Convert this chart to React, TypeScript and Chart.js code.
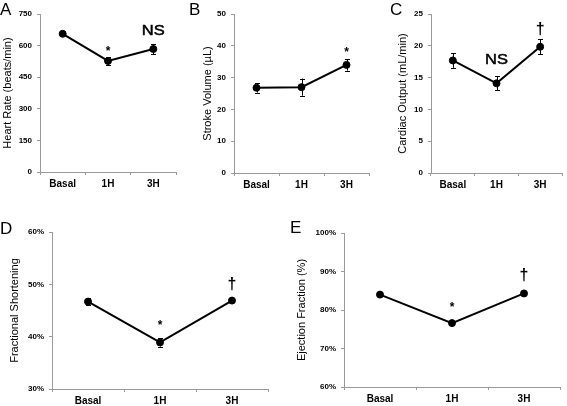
import React, { useEffect, useRef } from "react";
import { Chart, registerables } from "chart.js";

Chart.register(...registerables);

const FONT = "'Liberation Sans', Arial, Helvetica, sans-serif";

// ---------- data ----------
const categories = ["Basal", "1H", "3H"];

const heartRate = [656, 527, 584];
const heartRateErr = [6, 18, 24];
const heartRateMarks = ["", "*", "NS"];
const heartRateMarkY = [null, 554, 650];

const strokeVolume = [26.8, 27.0, 34.0];
const strokeVolumeErr = [1.5, 2.7, 1.8];
const strokeVolumeMarks = ["", "", "*"];
const strokeVolumeMarkY = [null, null, 36.9];

const cardiacOutput = [17.7, 14.1, 19.85];
const cardiacOutputErr = [1.15, 1.1, 1.2];
const cardiacOutputMarks = ["", "NS", "†"];
const cardiacOutputMarkY = [null, 17.1, 21.8];

const fractionalShortening = [46.7, 38.9, 46.9];
const fractionalShorteningErr = [0.7, 0.8, 0.3];
const fractionalShorteningMarks = ["", "*", "†"];
const fractionalShorteningMarkY = [null, 41.5, 49.1];

const ejectionFraction = [84.0, 76.6, 84.3];
const ejectionFractionErr = [0.3, 0.4, 0.3];
const ejectionFractionMarks = ["", "*", "†"];
const ejectionFractionMarkY = [null, 79.8, 87.9];

// y-axis ranges: [min, max, step]
const heartRateAxis = [0, 750, 150];
const strokeVolumeAxis = [0, 50, 10];
const cardiacOutputAxis = [0, 25, 5];
const fractionalShorteningAxis = [30, 60, 10];
const ejectionFractionAxis = [60, 100, 10];

type Panel = {
  letter: string;
  title: string;
  values: number[];
  errors: number[];
  marks: string[];
  markY: (number | null)[];
  axis: number[];
  percent: boolean;
  canvas: { x: number; y: number; w: number; h: number };
  area: { l: number; t: number; r: number; b: number };
  titlePad: number;
  letterPos: { x: number; y: number };
};

const panels: Panel[] = [
  {
    letter: "A",
    title: "Heart Rate (beats/min)",
    values: heartRate,
    errors: heartRateErr,
    marks: heartRateMarks,
    markY: heartRateMarkY,
    axis: heartRateAxis,
    percent: false,
    canvas: { x: 0, y: 0, w: 185, h: 195 },
    area: { l: 40, t: 14, r: 176, b: 172 },
    titlePad: 0.9,
    letterPos: { x: 0, y: 2 },
  },
  {
    letter: "B",
    title: "Stroke Volume (µL)",
    values: strokeVolume,
    errors: strokeVolumeErr,
    marks: strokeVolumeMarks,
    markY: strokeVolumeMarkY,
    axis: strokeVolumeAxis,
    percent: false,
    canvas: { x: 185, y: 0, w: 190, h: 195 },
    area: { l: 234, t: 14, r: 369, b: 173 },
    titlePad: 15.9,
    letterPos: { x: 189, y: 2 },
  },
  {
    letter: "C",
    title: "Cardiac Output (mL/min)",
    values: cardiacOutput,
    errors: cardiacOutputErr,
    marks: cardiacOutputMarks,
    markY: cardiacOutputMarkY,
    axis: cardiacOutputAxis,
    percent: false,
    canvas: { x: 375, y: 0, w: 192, h: 195 },
    area: { l: 431, t: 14, r: 566, b: 173 },
    titlePad: 21.7,
    letterPos: { x: 390, y: 2 },
  },
  {
    letter: "D",
    title: "Fractional Shortening",
    values: fractionalShortening,
    errors: fractionalShorteningErr,
    marks: fractionalShorteningMarks,
    markY: fractionalShorteningMarkY,
    axis: fractionalShorteningAxis,
    percent: true,
    canvas: { x: 0, y: 200, w: 290, h: 206 },
    area: { l: 52, t: 232, r: 268, b: 389 },
    titlePad: 8.4,
    letterPos: { x: 0, y: 221 },
  },
  {
    letter: "E",
    title: "Ejection Fraction (%)",
    values: ejectionFraction,
    errors: ejectionFractionErr,
    marks: ejectionFractionMarks,
    markY: ejectionFractionMarkY,
    axis: ejectionFractionAxis,
    percent: true,
    canvas: { x: 290, y: 200, w: 277, h: 206 },
    area: { l: 344, t: 233, r: 560, b: 387 },
    titlePad: 5.4,
    letterPos: { x: 290, y: 220 },
  },
];

function errorBarPlugin(errors: number[]) {
  return {
    id: "errorBars",
    afterDatasetsDraw(chart: any) {
      const ctx = chart.ctx;
      const meta = chart.getDatasetMeta(0);
      const ys = chart.scales.y;
      const data = chart.data.datasets[0].data as number[];
      ctx.save();
      ctx.strokeStyle = "#000";
      ctx.lineWidth = 1;
      meta.data.forEach((pt: any, i: number) => {
        const e = errors[i];
        if (!e) return;
        const yTop = ys.getPixelForValue(data[i] + e);
        const yBot = ys.getPixelForValue(data[i] - e);
        const x = Math.round(pt.x) + 0.5;
        ctx.beginPath();
        ctx.moveTo(x, yTop);
        ctx.lineTo(x, yBot);
        ctx.moveTo(x - 2.5, Math.round(yTop) + 0.5);
        ctx.lineTo(x + 2.5, Math.round(yTop) + 0.5);
        ctx.moveTo(x - 2.5, Math.round(yBot) + 0.5);
        ctx.lineTo(x + 2.5, Math.round(yBot) + 0.5);
        ctx.stroke();
      });
      ctx.restore();
    },
  };
}

function markPlugin(marks: string[], markY: (number | null)[]) {
  return {
    id: "marks",
    afterDraw(chart: any) {
      const ctx = chart.ctx;
      const xs = chart.scales.x;
      const ys = chart.scales.y;
      marks.forEach((m, i) => {
        const v = markY[i];
        if (!m || v == null) return;
        ctx.save();
        ctx.fillStyle = "#000";
        ctx.textAlign = "center";
        ctx.textBaseline = "alphabetic";
        const x = xs.getPixelForValue(i);
        const y = ys.getPixelForValue(v);
        ctx.translate(x, y);
        if (m === "*") {
          ctx.font = `bold 12px ${FONT}`;
        } else if (m === "NS") {
          ctx.font = `15px ${FONT}`;
          ctx.scale(1.1, 1);
          ctx.lineWidth = 0.5;
          ctx.strokeStyle = "#000";
          ctx.strokeText(m, 0, 0);
        } else {
          ctx.font = `bold 16px ${FONT}`;
        }
        ctx.fillText(m, 0, 0);
        ctx.restore();
      });
    },
  };
}

function PanelChart({ p }: { p: Panel }) {
  const ref = useRef<HTMLCanvasElement | null>(null);
  useEffect(() => {
    if (!ref.current) return;
    const [min, max, step] = p.axis;
    const yWidth = p.area.l - p.canvas.x;
    const xHeight = p.canvas.y + p.canvas.h - p.area.b;
    const chart = new Chart(ref.current, {
      type: "line",
      data: {
        labels: categories,
        datasets: [
          {
            data: p.values,
            borderColor: "#000",
            backgroundColor: "#000",
            borderWidth: 2,
            pointRadius: 3.5,
            pointBackgroundColor: "#000",
            pointBorderColor: "#000",
            pointBorderWidth: 1,
            tension: 0,
          },
        ],
      },
      options: {
        responsive: false,
        animation: false,
        devicePixelRatio: 1,
        layout: {
          padding: {
            left: 0,
            top: p.area.t - p.canvas.y,
            right: p.canvas.x + p.canvas.w - p.area.r,
            bottom: 0,
          },
        },
        plugins: {
          legend: { display: false },
          tooltip: { enabled: false },
        },
        scales: {
          x: {
            type: "category",
            offset: true,
            grid: {
              offset: true,
              drawOnChartArea: false,
              drawTicks: true,
              tickLength: 3,
              color: "#9a9a9a",
            },
            border: { color: "#9a9a9a", width: 1 },
            ticks: {
              color: "#000",
              font: { family: FONT, size: 10, weight: "bold" },
              padding: 3,
              maxRotation: 0,
            },
            afterFit: (s: any) => {
              s.height = xHeight;
            },
          },
          y: {
            min,
            max,
            grid: {
              drawOnChartArea: false,
              drawTicks: true,
              tickLength: 3,
              color: "#9a9a9a",
            },
            border: { color: "#9a9a9a", width: 1 },
            ticks: {
              stepSize: step,
              color: "#000",
              font: { family: FONT, size: 8, weight: "bold" },
              padding: 5,
              callback: (v: any) => (p.percent ? `${v}%` : `${v}`),
            },
            title: {
              display: true,
              text: p.title,
              color: "#000",
              font: { family: FONT, size: 11 },
              padding: { top: p.titlePad, bottom: 0 },
            },
            afterFit: (s: any) => {
              s.width = yWidth;
            },
          },
        },
      },
      plugins: [errorBarPlugin(p.errors), markPlugin(p.marks, p.markY)],
    } as any);
    return () => chart.destroy();
  }, [p]);
  return (
    <canvas
      ref={ref}
      width={p.canvas.w}
      height={p.canvas.h}
      style={{
        position: "absolute",
        left: p.canvas.x,
        top: p.canvas.y,
        width: p.canvas.w,
        height: p.canvas.h,
      }}
    />
  );
}

export default function App() {
  return (
    <div
      style={{
        position: "absolute",
        left: 0,
        top: 0,
        width: 567,
        height: 406,
        background: "#fff",
        overflow: "hidden",
        fontFamily: FONT,
      }}
    >
      {panels.map((p) => (
        <PanelChart key={p.letter} p={p} />
      ))}
      {panels.map((p) => (
        <div
          key={"l" + p.letter}
          style={{
            position: "absolute",
            left: p.letterPos.x,
            top: p.letterPos.y,
            fontSize: 17,
            lineHeight: "16px",
            color: "#000",
          }}
        >
          {p.letter}
        </div>
      ))}
    </div>
  );
}
